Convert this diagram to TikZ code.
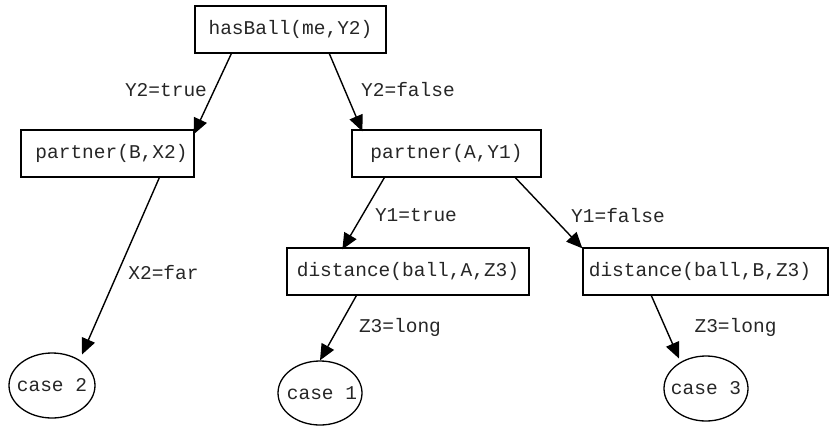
\documentclass[tikz,border=0pt]{standalone}
\usepackage{fontspec}
\setmonofont{Liberation Mono}
\usetikzlibrary{shapes.geometric,arrows.meta,calc}
\tikzset{
  box/.style={draw, line width=1.3pt, rectangle, inner sep=0pt, font=\ttfamily\fontsize{19.5}{22}\selectfont, text=black!85},
  leaf/.style={draw, line width=1.3pt, ellipse, inner sep=0pt, font=\ttfamily\fontsize{19.5}{22}\selectfont, text=black!85},
  lbl/.style={inner sep=0pt, font=\ttfamily\fontsize{19.5}{22}\selectfont, text=black!85},
  conn/.style={line width=1.4pt, -{Triangle[length=16pt,width=14pt]}}
}
\begin{document}
\begin{tikzpicture}[x=1pt,y=-1pt]
\useasboundingbox (0,0) rectangle (830,426);
\node[box, minimum width=191pt, minimum height=47pt] (hb) at (290.5,29.5) {hasBall(me,Y2)};
\node[box, minimum width=173pt, minimum height=47pt] (pb) at (107.5,153.5) {\makebox[0pt]{\hspace*{8pt}partner(B,X2)}};
\node[box, minimum width=189pt, minimum height=47pt] (pa) at (446.5,153.5) {partner(A,Y1)};
\node[box, minimum width=242pt, minimum height=47pt] (da) at (408,271.5) {distance(ball,A,Z3)};
\node[box, minimum width=245pt, minimum height=47pt] (db) at (705.5,271.5) {\makebox[0pt]{distance(ball,B,Z3)\hspace*{11pt}}};
\node[leaf, minimum width=86pt, minimum height=65pt] (c2) at (52,385.5) {\makebox[0pt]{case 2}};
\node[leaf, minimum width=84pt, minimum height=64pt] (c1) at (320,393) {\makebox[0pt]{\hspace*{4pt}case 1}};
\node[leaf, minimum width=84pt, minimum height=65pt] (c3) at (706,388.5) {\makebox[0pt]{case 3}};

\node[lbl] (l1) at (166,90) {Y2=true};
\node[lbl] (l2) at (408,90) {Y2=false};
\node[lbl] (l3) at (163.5,273) {X2=far};
\node[lbl] (l4) at (416,215) {Y1=true};
\node[lbl] (l5) at (618,216) {Y1=false};
\node[lbl] (l6) at (400,327) {Z3=long};
\node[lbl] (l7) at (735.5,327) {Z3=long};

\draw[conn] ($(hb.south west)+(37,0)$) -- ($(pb.north east)+(-1,5)$);
\draw[conn] ($(hb.south west)+(135,0)$) -- ($(pa.north west)+(11,2)$);
\draw[conn] ($(pb.south west)+(139,0)$) -- ($(c2.center)+(30,-31)$);
\draw[conn] ($(pa.south west)+(33,0)$) -- ($(da.north west)+(56,2)$);
\draw[conn] ($(pa.south west)+(164,0)$) -- ($(db.north west)+(0,1)$);
\draw[conn] ($(da.south west)+(70,0)$) -- (c1.north);
\draw[conn] ($(db.south west)+(69,0)$) -- ($(c3.center)+(-27,-30)$);
\end{tikzpicture}
\end{document}
